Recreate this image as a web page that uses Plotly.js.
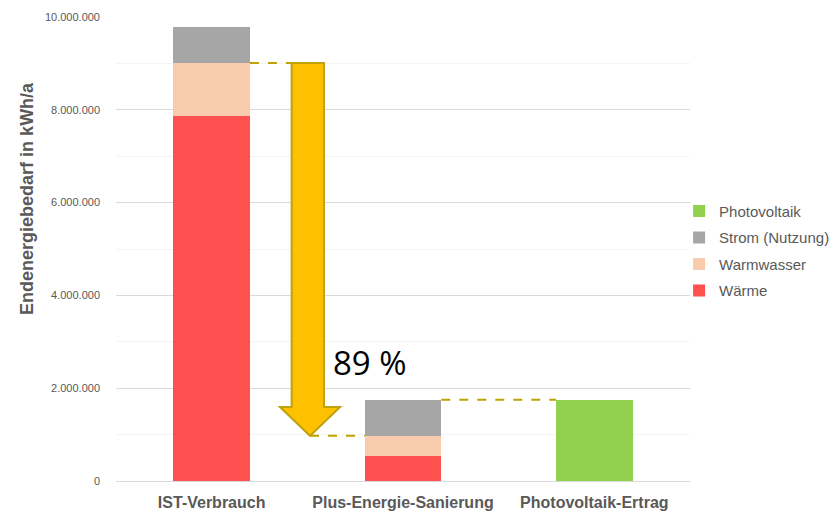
<!DOCTYPE html>
<html>
<head>
<meta charset="utf-8">
<script src="https://cdn.plot.ly/plotly-3.0.1.min.js"></script>
<style>html,body{margin:0;padding:0;background:#fff;}#chart{width:833px;height:513px;}</style>
</head>
<body>
<div id="chart"></div>
<script>
const categories = ["IST-Verbrauch", "Plus-Energie-Sanierung", "Photovoltaik-Ertrag"];
const waerme = [7870000, 540000, 0];
const warmwasser = [1140000, 435000, 0];
const strom = [770000, 765000, 0];
const photovoltaik = [0, 0, 1750000];
const reductionLabel = "89 %";
const yTitle = "Endenergiebedarf in kWh/a";

const xs = categories.map((c, i) => i);
const common = {type: "bar", x: xs, width: 0.4, hoverinfo: "y+name"};
const traces = [
  Object.assign({}, common, {name: "Wärme", legendgroup: "a", legendrank: 4, y: waerme, marker: {color: "#FF5050"}}),
  Object.assign({}, common, {name: "Warmwasser", legendgroup: "b", legendrank: 3, y: warmwasser, marker: {color: "#F8CBAD"}}),
  Object.assign({}, common, {name: "Strom (Nutzung)", legendgroup: "c", legendrank: 2, y: strom, marker: {color: "#A6A6A6"}}),
  Object.assign({}, common, {name: "Photovoltaik", legendgroup: "d", legendrank: 1, y: photovoltaik, marker: {color: "#92D050"}})
];

const ist_ww_top = waerme[0] + warmwasser[0];
const plus_ww_top = waerme[1] + warmwasser[1];
const plus_total = waerme[1] + warmwasser[1] + strom[1];
const pv_total = photovoltaik[2];

const dashColor = "#BFA300";
const sL = 0.418, sR = 0.587, hL = 0.357, hR = 0.671, tipX = 0.514, headBase = 1595000;
const arrowPath = `M ${sL},${ist_ww_top} L ${sR},${ist_ww_top} L ${sR},${headBase} L ${hR},${headBase} L ${tipX},${plus_ww_top} L ${hL},${headBase} L ${sL},${headBase} Z`;

const shapes = [
  {type: "line", xref: "x", yref: "y", x0: 0.2, x1: sL, y0: ist_ww_top, y1: ist_ww_top, line: {color: dashColor, width: 2, dash: "dash"}},
  {type: "line", xref: "x", yref: "y", x0: tipX, x1: 0.8, y0: plus_ww_top, y1: plus_ww_top, line: {color: dashColor, width: 2, dash: "dash"}},
  {type: "line", xref: "x", yref: "y", x0: 1.2, x1: 1.8, y0: Math.max(plus_total, pv_total), y1: Math.max(plus_total, pv_total), line: {color: dashColor, width: 2, dash: "dash"}},
  {type: "path", xref: "x", yref: "y", path: arrowPath, fillcolor: "#FFC000", line: {color: "#BFA30A", width: 2}}
];

const layout = {
  width: 833, height: 513,
  margin: {l: 116, r: 143, t: 17, b: 32, autoexpand: false},
  barmode: "stack",
  separators: ",.",
  paper_bgcolor: "#fff", plot_bgcolor: "#fff",
  font: {family: "Liberation Sans, Arial, sans-serif", color: "#595959"},
  xaxis: {
    type: "linear", range: [-0.5, 2.5], tickvals: xs, ticktext: categories,
    showgrid: false, zeroline: false, showline: true, linecolor: "#D9D9D9", linewidth: 1,
    ticks: "", tickfont: {size: 16, color: "#595959", family: "Liberation Sans, Arial, sans-serif", weight: "bold"},
    ticklabelstandoff: 7, automargin: false
  },
  yaxis: {
    range: [0, 10000000], dtick: 2000000, tickformat: ",d",
    showgrid: true, gridcolor: "#D9D9D9", gridwidth: 1, zeroline: false,
    minor: {dtick: 1000000, showgrid: true, gridcolor: "#F4F4F4", gridwidth: 1, ticks: ""},
    tickfont: {size: 11, color: "#595959"}, ticks: "", ticklabelstandoff: 15, automargin: false
  },
  legend: {
    x: 0.981, y: 0.496, xanchor: "left", yanchor: "middle", traceorder: "grouped",
    font: {size: 15, color: "#595959"}, itemwidth: 30, tracegroupgap: 4, bgcolor: "rgba(0,0,0,0)"
  },
  shapes: shapes,
  annotations: [
    {xref: "x", yref: "y", x: 0.827, y: 2550000, text: reductionLabel, showarrow: false,
     font: {size: 33, color: "#000", family: "Open Sans, Liberation Sans, sans-serif"}},
    {xref: "paper", yref: "paper", x: -0.155, y: 0.608, text: yTitle, textangle: -90, showarrow: false,
     xanchor: "center", yanchor: "middle",
     font: {size: 18, color: "#595959", weight: "bold", family: "Liberation Sans, Arial, sans-serif"}}
  ]
};

Plotly.newPlot("chart", traces, layout, {displayModeBar: false, staticPlot: true});
</script>
</body>
</html>
